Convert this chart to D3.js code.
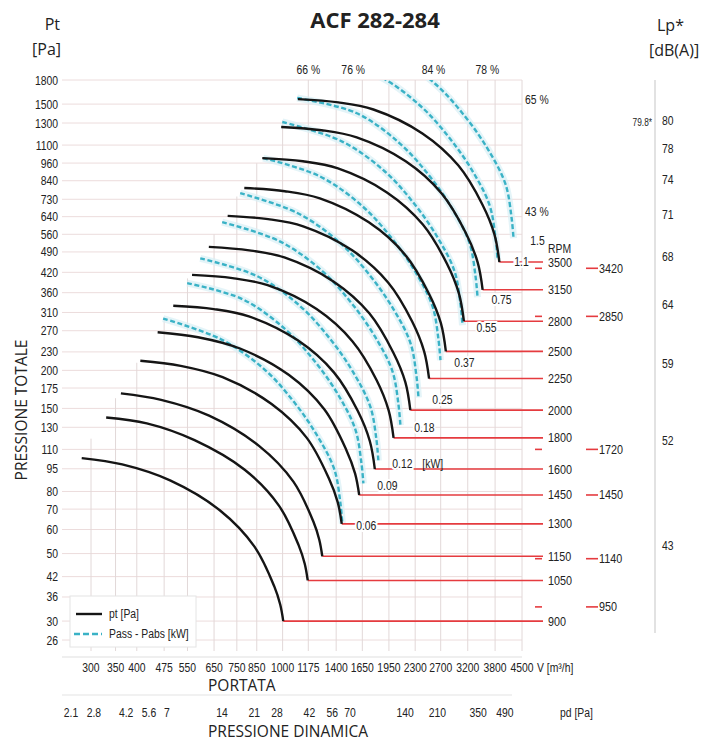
<!DOCTYPE html>
<html><head><meta charset="utf-8">
<script src="https://cdn.jsdelivr.net/npm/d3@7"></script>
<style>
body{margin:0;background:#fff;}
svg text{font-family:"Liberation Sans","Arial",sans-serif;fill:#222;}
svg text.os{font-family:"Open Sans","Noto Sans",sans-serif;}
</style></head><body><svg id="c" width="718" height="749"></svg>
<script>
// ---------- data ----------
const yTicks=[1800,1500,1300,1100,960,840,730,640,560,490,420,360,310,270,230,200,175,150,130,110,95,80,70,60,50,42,36,30,26];
const xTicks=[300,350,400,475,550,650,750,850,1000,1175,1400,1650,1950,2300,2700,3200,3800,4500];
const pdTicks=[2.1,2.8,4.2,5.6,7,14,21,28,42,56,70,140,210,350,490];
const rpm=[3500,3150,2800,2500,2250,2000,1800,1600,1450,1300,1150,1050,900];
// pt [Pa] curves, points [V m3/h, Pt Pa]
const pt3500=[[1101,1558],[1419,1520],[1769,1440],[2407,1201],[3018,942],[3508,702],[3784,560],[3904,454]];
const pt3150=[[991,1262],[1278,1231],[1593,1166],[2167,973],[2716,763],[3157,568],[3406,453],[3514,368]];
const pt2800=[[880,997],[1136,973],[1416,922],[1926,769],[2414,603],[2806,449],[3027,358],[3124,290]];
const pt2500=[[786,795],[1014,776],[1264,735],[1719,613],[2156,481],[2506,358],[2703,286],[2789,231]];
const pt2250=[[708,644],[913,628],[1138,595],[1548,496],[1940,389],[2255,290],[2433,231],[2510,188]];
const pt2000=[[629,509],[811,496],[1011,470],[1376,392],[1724,308],[2004,229],[2162,183],[2231,148]];
const pt1800=[[566,412],[730,402],[910,381],[1238,318],[1552,249],[1804,186],[1946,148],[2008,120]];
const pt1600=[[503,326],[649,318],[809,301],[1100,251],[1380,197],[1604,147],[1730,117],[1785,94.8]];
const pt1450=[[456,267],[588,257],[765,236],[1041,193],[1299,149],[1490,110],[1577,91.6],[1618,77.9]];
const pt1300=[[409,215],[527,207],[686,190],[933,155],[1164,120],[1336,88.5],[1414,73.7],[1450,62.6]];
const pt1150=[[362,168],[466,160],[630,142],[862,113],[1070,86.2],[1213,63.7],[1259,55.5],[1283,49]];
const pt1050=[[330,140],[426,134],[575,118],[788,94.3],[977,71.9],[1107,53.1],[1149,46.3],[1171,40.8]];
const pt900=[[283,103],[365,98.2],[493,87],[675,69.3],[837,52.8],[949,39],[985,34],[1004,30]];
const ptCurves=[pt3500,pt3150,pt2800,pt2500,pt2250,pt2000,pt1800,pt1600,pt1450,pt1300,pt1150,pt1050,pt900];
// Pass - Pabs [kW] dashed curves
const kwLabels=["1.5","1.1","0.75","0.55","0.37","0.25","0.18","0.12","0.09","0.06"];
const kw150=[[1375,2455],[1992,2192],[2611,1746],[3155,1360],[3644,1059],[4057,818],[4213,637],[4266,544]];
const kw110=[[1243,2095],[1802,1870],[2362,1490],[2854,1160],[3297,904],[3670,698],[3811,544],[3859,464]];
const kw075=[[1096,1571],[1589,1402],[2083,1117],[2517,870],[2907,678],[3236,524],[3360,408],[3403,348]];
const kw055=[[998,1310],[1446,1134],[1895,904],[2290,704],[2645,548],[2944,424],[3057,330],[3096,281.5]];
const kw037=[[885,997],[1259,870],[1650,693],[1994,540],[2303,421],[2564,325],[2662,253],[2696,216]];
const kw025=[[766,765],[1097,658],[1437,524],[1737,408],[2006,318],[2233,246],[2319,191],[2348,163]];
const kw018=[[684,614],[979,532],[1283,424],[1550,330],[1791,257],[1993,199],[2070,155],[2096,132]];
const kw012=[[596,467],[852,408],[1117,325],[1350,253],[1559,197],[1735,152],[1802,119],[1825,101]];
const kw009=[[549,387],[776,343],[1017,273],[1228,213],[1419,166],[1579,128],[1640,99.6],[1661,85]];
const kw006=[[472,296],[679,253],[890,202],[1076,157],[1243,122],[1384,94.5],[1437,73.6],[1455,62.8]];
const kwCurves=[kw150,kw110,kw075,kw055,kw037,kw025,kw018,kw012,kw009,kw006];
// second rpm column and its pressure level
const rpm2=[3420,2850,1720,1450,1140,950];
const rpm2Pt=[433,301,110,77.9,48.1,33.4];
// Lp labels and their level on the pressure axis
const lpLabels=[80,78,74,71,68,64,59,52,43];
const lpPt=[1320,1070,845,650,475,330,210,118,53];
// efficiency labels
const effTop=[["66 %",1175],["76 %",1558],["84 %",2580],["78 %",3620]];
const effRight=[["65 %",1546],["43 %",662]];

// ---------- scales ----------
const W=718;
const svg=d3.select('#c');
const x=d3.scaleLog().domain([300,4500]).range([91,522]);
const y=d3.scaleLog().domain([26,1800]).range([640,80]);
const pdK=3e-5; // pd = k * V^2
const xpd=d3.scaleLog().domain([pdK*300*300,pdK*4500*4500]).range(x.range());
const L=62,R=522,T=80,B=657;

// ---------- grid ----------
const g=svg.append('g');
g.selectAll('.hg').data(yTicks).join('line')
 .attr('x1',L).attr('x2',R).attr('y1',d=>y(d)).attr('y2',d=>y(d))
 .attr('stroke','#ecdcdc').attr('stroke-width',1);
const starts=ptCurves.map(c=>c[0]).sort((a,b)=>a[0]-b[0]);
function envTop(v){
  if(v>=starts[starts.length-1][0]) return T;
  for(let i=0;i<starts.length-1;i++){
    const a=starts[i],b=starts[i+1];
    if(v>=a[0]&&v<=b[0]){
      const t=(Math.log(v)-Math.log(a[0]))/(Math.log(b[0])-Math.log(a[0]));
      return y(Math.exp(Math.log(a[1])+t*(Math.log(b[1])-Math.log(a[1]))))-4;
    }
  }
  return y(starts[0][1]);
}
g.selectAll('.vg').data(xTicks).join('line')
 .attr('x1',d=>x(d)).attr('x2',d=>x(d)).attr('y1',d=>envTop(d)).attr('y2',B-6)
 .attr('stroke','#e2d8d8').attr('stroke-width',1);
g.append('line').attr('x1',L).attr('x2',R).attr('y1',B).attr('y2',B).attr('stroke','#e0e0e0').attr('stroke-width',1.2);
g.append('line').attr('x1',L).attr('x2',512).attr('y1',695).attr('y2',695).attr('stroke','#e4e4e4').attr('stroke-width',1.2);
g.append('line').attr('x1',655).attr('x2',655).attr('y1',T).attr('y2',633).attr('stroke','#d9d9d9').attr('stroke-width',1.5);

// ---------- axes labels ----------
svg.append('g').selectAll('text').data(yTicks).join('text')
 .attr('x',58).attr('y',d=>y(d)+4.5).attr('text-anchor','end').attr('font-size',12.5).text(d=>d);
svg.append('g').selectAll('text').data(xTicks).join('text')
 .attr('x',d=>x(d)).attr('y',672).attr('text-anchor','middle').attr('font-size',12.5).text(d=>d);
svg.append('text').attr('x',537).attr('y',672).attr('font-size',12.5).text('V [m³/h]');
svg.append('g').selectAll('text').data(pdTicks).join('text')
 .attr('x',d=>xpd(d)).attr('y',717).attr('text-anchor','middle').attr('font-size',12.5).text(d=>d);
svg.append('text').attr('x',560).attr('y',717).attr('font-size',12.5).text('pd  [Pa]');

svg.append('text').attr('class','os').attr('x',375).attr('y',28).attr('text-anchor','middle')
 .attr('font-size',22).attr('font-weight','bold').text('ACF 282-284');
svg.append('text').attr('class','os').attr('x',60).attr('y',30).attr('text-anchor','end').attr('font-size',16).text('Pt');
svg.append('text').attr('class','os').attr('x',61).attr('y',55).attr('text-anchor','end').attr('font-size',16).text('[Pa]');
svg.append('text').attr('class','os').attr('x',657).attr('y',31).attr('font-size',16).text('Lp*');
svg.append('text').attr('class','os').attr('x',649).attr('y',56).attr('font-size',16).text('[dB(A)]');
svg.append('text').attr('class','os').attr('x',208).attr('y',691).attr('font-size',15.5).text('PORTATA');
svg.append('text').attr('class','os').attr('x',208).attr('y',737).attr('font-size',15.5).text('PRESSIONE DINAMICA');
svg.append('text').attr('class','os').attr('transform','translate(27,410) rotate(-90)').attr('text-anchor','middle')
 .attr('font-size',15.5).text('PRESSIONE TOTALE');

// ---------- curves ----------
const line=d3.line().x(d=>x(d[0])).y(d=>y(d[1])).curve(d3.curveCatmullRom.alpha(0.5));
svg.append('clipPath').attr('id','clip').append('rect').attr('x',0).attr('y',T).attr('width',W).attr('height',600);
const cg=svg.append('g').attr('clip-path','url(#clip)');
cg.selectAll('.halo').data(kwCurves).join('path').attr('d',line).attr('fill','none')
 .attr('stroke','#d9f0f5').attr('stroke-width',7).attr('opacity',0.7);
const ends=ptCurves.map(c=>c[c.length-1]);
svg.append('g').selectAll('line').data(ends).join('line')
 .attr('x1',d=>x(d[0])).attr('x2',543).attr('y1',d=>y(d[1])).attr('y2',d=>y(d[1]))
 .attr('stroke','#e53b3f').attr('stroke-width',1.6);
cg.selectAll('.kw').data(kwCurves).join('path').attr('d',line).attr('fill','none')
 .attr('stroke','#3ab2c6').attr('stroke-width',2.4).attr('stroke-dasharray','5,2.5');
svg.append('g').selectAll('path').data(ptCurves).join('path').attr('d',line).attr('fill','none')
 .attr('stroke','#151515').attr('stroke-width',2.4);

// kW labels at dashed curve ends
const kwEnds=kwCurves.map(c=>c[c.length-1]);
svg.append('g').selectAll('text').data(kwEnds).join('text')
 .attr('x',d=>x(d[0])+24).attr('y',d=>y(d[1])+7).attr('text-anchor','middle').attr('font-size',12.5)
 .attr('stroke','#fff').attr('stroke-width',4).attr('paint-order','stroke')
 .text((d,i)=>kwLabels[i]);
svg.append('text').attr('x',x(kwEnds[7][0])+44).attr('y',y(kwEnds[7][1])+7).attr('font-size',12.5).text('[kW]');

// rpm labels
svg.append('g').selectAll('text').data(ends).join('text')
 .attr('x',548).attr('y',d=>y(d[1])+4.5).attr('font-size',13).text((d,i)=>rpm[i]);
svg.append('text').attr('x',548).attr('y',253).attr('font-size',12.5).text('RPM');
const r2=svg.append('g');
r2.selectAll('.d1').data(rpm2Pt.filter((d,i)=>rpm2[i]!==1450)).join('line')
 .attr('x1',535).attr('x2',542).attr('y1',d=>y(d)).attr('y2',d=>y(d)).attr('stroke','#e53b3f').attr('stroke-width',1.6);
r2.selectAll('.d2').data(rpm2Pt).join('line')
 .attr('x1',586).attr('x2',598).attr('y1',d=>y(d)).attr('y2',d=>y(d)).attr('stroke','#e53b3f').attr('stroke-width',1.6);
r2.selectAll('text').data(rpm2Pt).join('text')
 .attr('x',599).attr('y',d=>y(d)+4.5).attr('font-size',13).text((d,i)=>rpm2[i]);

// Lp labels
svg.append('g').selectAll('text').data(lpPt).join('text')
 .attr('x',662).attr('y',d=>y(d)+4.5).attr('font-size',12.5).text((d,i)=>lpLabels[i]);
svg.append('text').attr('x',652).attr('y',y(lpPt[0])+5).attr('text-anchor','end').attr('font-size',10).text('79.8*');

// efficiency labels
svg.append('g').selectAll('text').data(effTop).join('text')
 .attr('x',d=>x(d[1])).attr('y',74).attr('text-anchor','middle').attr('font-size',12.5).text(d=>d[0]);
svg.append('g').selectAll('text').data(effRight).join('text')
 .attr('x',525).attr('y',d=>y(d[1])+4).attr('font-size',12.5).text(d=>d[0]);

// legend
const lg=svg.append('g');
lg.append('rect').attr('x',70).attr('y',596).attr('width',126).attr('height',51).attr('fill','#fff').attr('stroke','#e4e4e4');
lg.append('line').attr('x1',76).attr('x2',102).attr('y1',614).attr('y2',614).attr('stroke','#151515').attr('stroke-width',2.4);
lg.append('line').attr('x1',74).attr('x2',102).attr('y1',634).attr('y2',634).attr('stroke','#3ab2c6').attr('stroke-width',2.4).attr('stroke-dasharray','6,3');
lg.append('text').attr('x',109).attr('y',618).attr('font-size',12.5).text('pt [Pa]');
lg.append('text').attr('x',109).attr('y',638).attr('font-size',12.5).text('Pass - Pabs [kW]');

// condensed look for the Arial-Narrow style labels
svg.selectAll('text:not(.os)').each(function(){
  const w=this.getComputedTextLength();
  d3.select(this).attr('textLength',w*0.83).attr('lengthAdjust','spacingAndGlyphs');
});
</script></body></html>
